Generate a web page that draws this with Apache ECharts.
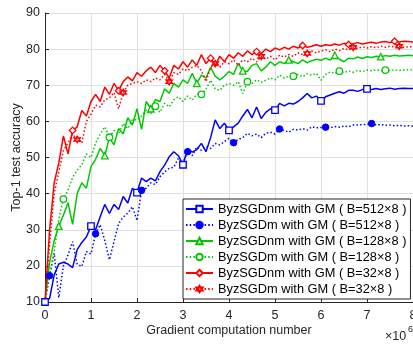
<!DOCTYPE html>
<html><head><meta charset="utf-8">
<script src="https://cdn.jsdelivr.net/npm/echarts@6/dist/echarts.min.js"></script>
<style>html,body{margin:0;padding:0;background:#fff}#c{width:413px;height:346px}</style>
</head><body><div id="c"></div>
<script>
// Gradient computation number (x 10^6)
const xs = [
 0,0.1,0.2,0.3,0.4,0.5,0.6,0.7,0.8,0.9,
 1,1.1,1.2,1.3,1.4,1.5,1.6,1.7,1.8,1.9,
 2,2.1,2.2,2.3,2.4,2.5,2.6,2.7,2.8,2.9,
 3,3.1,3.2,3.3,3.4,3.5,3.6,3.7,3.8,3.9,
 4,4.1,4.2,4.3,4.4,4.5,4.6,4.7,4.8,4.9,
 5,5.1,5.2,5.3,5.4,5.5,5.6,5.7,5.8,5.9,
 6,6.1,6.2,6.3,6.4,6.5,6.6,6.7,6.8,6.9,
 7,7.1,7.2,7.3,7.4,7.5,7.6,7.7,7.8,7.9,
 8];
const xTicks = [0,1,2,3,4,5,6,7,8];
const yTicks = [10,20,30,40,50,60,70,80,90];

const names = [
 'ByzSGDnm with GM ( B=512×8 )',
 'ByzSGDm with GM ( B=512×8 )',
 'ByzSGDnm with GM ( B=128×8 )',
 'ByzSGDm with GM ( B=128×8 )',
 'ByzSGDnm with GM ( B=32×8 )',
 'ByzSGDm with GM ( B=32×8 )'
];

const nm512 = [10,11,17.5,20.5,21,20.5,19.5,24.5,26.5,28,
 31,30,33.6,37,34.5,37,35.6,39.2,37.4,41.5,
 40.3,44.3,43.3,44.3,43.5,46.1,47.9,50.2,51.6,50.5,
 48,52.5,51.5,52.2,53.9,51.6,55.5,60.4,58,59.5,
 57.5,58.5,59.5,61.5,63.3,61,64,60.8,62.5,63.5,
 63.1,65,64.3,65,64.8,65.5,66.5,67.7,66.5,67,
 65.7,66.8,67.3,67.8,68.2,67.8,68.6,68.6,68.3,68.8,
 69,68.8,69.1,68.8,69,69.2,68.9,69.1,69.2,69.1,
 69.1];
const m512 = [10,17.3,23.5,11.2,20,23,26.7,20.5,19.8,24,
 23.3,28.9,31.4,27,21.7,26.7,31.7,33.5,34.6,36.4,
 32.5,40.9,41.5,43,42.5,44.7,46,47,47.3,49.8,
 48.5,51.6,50.5,52.9,52,53,52.5,53.9,53.5,54.4,
 55.3,54.1,55,55.5,56.7,56,56.5,55.5,56.7,57,
 56.5,57.9,57.5,57,57.8,57.6,58,57.6,58.5,58.2,
 58.3,58.4,58.2,58.6,58.4,58.7,58.5,59,59,59.1,
 59.2,59.4,59,59.1,58.9,59,58.8,58.9,58.7,58.8,
 58.7];
const nm128 = [10,21,27,31,34,37.5,31.5,40,43,41.5,
 47.5,49.5,52.5,50.5,55.5,53.5,58,56.5,61,59,
 63.5,57.8,65.5,63.5,66,65.5,69,67.8,70.5,69.5,
 71.5,70.5,73.3,70.5,72.8,72,75,72.5,71.5,72.5,
 73.8,73,76,74,73.8,75.5,76,74,75,76.5,
 75.5,76.5,76,77,76.5,76,77,76.2,76.8,77.2,
 76.9,77.5,77,78.3,77.2,76.5,77.5,77.3,77.8,77.4,
 77.9,77.7,78,77.9,78.2,78,78.3,78.1,78.2,78.3,
 78.2];
const m128 = [10,18,24,33,38.5,41,44.5,46.5,48,51,
 50,54,56.5,58.5,55.6,57.5,56.5,59.4,58,60.5,
 60.4,61.5,63.1,62,64.2,62.5,65,64,66,66.8,
 65.5,67,65.9,67.5,67.5,69,71.4,69,68.6,70,
 70.5,70,71,67.7,71,70.5,71.5,70.8,71.4,72,
 71.5,72.8,72,72.5,72.5,73,72.3,73.2,72.8,73.3,
 71.4,73,73.7,73.2,73.9,73.5,74,73.6,74.1,73.8,
 74.2,74,74.3,74,74.2,74.1,74.3,74.1,74.2,74.3,
 74.2];
const nm32 = [10,30,43,48.5,56,51,57.5,58.5,63,61.5,
 65.5,67.5,65.5,69.5,67.5,70.5,68.5,71,72.3,71.2,
 73.5,72.5,74,75,73.5,75.5,74,72,75.5,74.5,
 76.5,75,77,75.5,78.5,76,77.5,75.5,78,76.5,
 78.5,77.5,79,78,79.5,78.5,79.3,78.8,80,79.3,
 80.3,79.8,80.5,80,80.8,80.3,81,80.5,80.8,81.2,
 80.8,81.2,81,81.4,81.1,81.6,81.3,81.5,81.8,81.4,
 81.7,81.9,81.6,82,82.1,81.8,82.2,82,82.2,82.1,
 82];
const m32 = [10,26,40,46,52,54,56.5,55,54,60,
 62,64.5,64,66,66.5,68,63.5,68,70,70.5,
 71,70.5,71.5,71,72,71.5,73,71,73.5,73,
 74.5,74,75,75.5,74,71,75,76,75,76.5,
 76,77,75.5,77,76.5,77.5,76.5,78,77.2,78,
 77,78.3,77.8,78.5,78,79,78.5,78.8,79.5,79,
 79.5,79.8,79.3,80,79.6,80.2,79.8,80.5,80.2,80.6,
 80.3,80.7,80.4,80.8,80.5,80.8,80.6,80.8,80.5,80.7,
 80.6];

const FONT = 'Liberation Sans, Arial, Helvetica, sans-serif';
const AX = '#262626';
const BLUE = '#0000ff', GREEN = '#00c800', RED = '#ff0000';
const HEX = 'path://M0,-10L8.66,5L-8.66,5ZM0,10L8.66,-5L-8.66,-5Z';

function build(vals, off) {
  return vals.map((v, i) => {
    const d = { value: [xs[i], v] };
    if (!(i % 10 === off && i < 80)) d.symbol = 'none';
    return d;
  });
}
function mk(name, vals, off, color, dotted, symbol, filled) {
  return {
    type: 'line', name: name, data: build(vals, off),
    symbol: symbol, symbolSize: 6.5, showSymbol: true, showAllSymbol: true,
    lineStyle: { color: color, width: 1.5, type: dotted ? [1.5, 2.2] : 'solid' },
    itemStyle: filled ? { color: color, borderColor: color, borderWidth: 1 } : { color: '#fff', borderColor: color, borderWidth: 1.3 },
    emphasis: { disabled: true },
    animation: false
  };
}

const chart = echarts.init(document.getElementById('c'));
chart.setOption({
  animation: false,
  backgroundColor: '#fff',
  textStyle: { fontFamily: FONT },
  grid: { left: 45, right: 0, top: 13, bottom: 44, containLabel: false, outerBoundsMode: 'none' },
  xAxis: {
    type: 'value', min: xTicks[0], max: xTicks[xTicks.length - 1], interval: 1,
    name: 'Gradient computation number', nameLocation: 'middle', nameGap: 22, nameMoveOverlap: false,
    nameTextStyle: { color: AX, fontSize: 12.5, fontFamily: FONT },
    axisLine: { show: true, onZero: false, lineStyle: { color: AX, width: 1 } },
    axisTick: { show: true, inside: true, length: 4, lineStyle: { color: AX } },
    axisLabel: { color: AX, fontSize: 12.5, margin: 7, fontFamily: FONT, hideOverlap: false, showMaxLabel: true },
    splitLine: { show: true, lineStyle: { color: '#e0e0e0', width: 1 } }
  },
  yAxis: {
    type: 'value', min: yTicks[0], max: yTicks[yTicks.length - 1], interval: 10,
    name: 'Top-1 test accuracy', nameLocation: 'middle', nameGap: 22, nameMoveOverlap: false,
    nameTextStyle: { color: AX, fontSize: 12.5, fontFamily: FONT },
    axisLine: { show: true, onZero: false, lineStyle: { color: AX, width: 1 } },
    axisTick: { show: true, inside: true, length: 4, lineStyle: { color: AX } },
    axisLabel: { color: AX, fontSize: 12.5, margin: 5, fontFamily: FONT },
    splitLine: { show: true, lineStyle: { color: '#e0e0e0', width: 1 } }
  },
  legend: {
    orient: 'vertical', left: 183, top: 199,
    itemWidth: 27, itemHeight: 8, itemGap: 3,
    padding: [3.5, 4, 3.5, 2],
    borderColor: AX, borderWidth: 1, backgroundColor: '#fff',
    textStyle: { fontSize: 12.8, color: '#000', fontFamily: FONT },
    data: names
  },
  graphic: [
    { type: 'text', left: 385, top: 330, style: { text: '×10', font: '12.5px ' + FONT, fill: AX } },
    { type: 'text', left: 408, top: 325, style: { text: '6', font: '9px ' + FONT, fill: AX } }
  ],
  series: [
    mk(names[0], nm512, 0, BLUE, false, 'rect', false),
    mk(names[1], m512, 1, BLUE, true, 'circle', true),
    mk(names[2], nm128, 3, GREEN, false, 'triangle', false),
    mk(names[3], m128, 4, GREEN, true, 'circle', false),
    mk(names[4], nm32, 6, RED, false, 'diamond', false),
    mk(names[5], m32, 7, RED, true, HEX, false)
  ]
});
</script>
</body></html>
